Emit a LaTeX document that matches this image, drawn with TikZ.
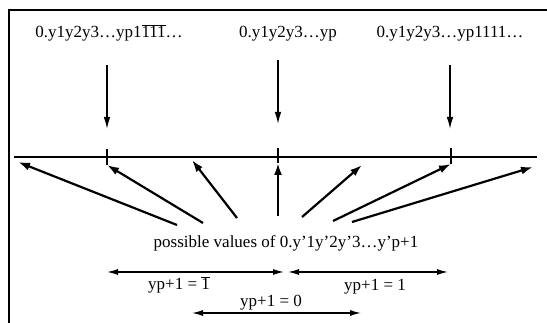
\documentclass[tikz,border=0pt]{standalone}
\usepackage{fontspec}
\setmainfont{Liberation Serif}
\usetikzlibrary{arrows.meta}
\newcommand\ovl[1]{$\overline{\hbox{#1}}$}
\begin{document}
\begin{tikzpicture}[x=1pt,y=-1pt,
  lbl/.style={font=\fontsize{17}{20}\selectfont, inner sep=0pt, anchor=base},
  fan/.style={line width=2.2pt, -{Latex[length=12pt,width=8pt]}},
  down/.style={line width=1.3pt, -{Latex[length=12pt,width=6.5pt]}},
  dbl/.style={line width=1.3pt, {Latex[length=11pt,width=6pt]}-{Latex[length=11pt,width=6pt]}},
  single/.style={line width=1.3pt, -{Latex[length=11pt,width=6pt]}},
  tick/.style={line width=1.4pt}]
\useasboundingbox (0,0) rectangle (547,323);
% frame
\draw[line width=2pt] (9,323) -- (9,10) -- (547,10);
% number line
\coordinate (L0) at (14,157);
\coordinate (L1) at (537,157);
\draw[line width=1.5pt] (L0) -- (L1);
% ticks
\coordinate (t1a) at (107,149); \coordinate (t1) at (107,165);
\coordinate (t2a) at (278,148); \coordinate (t2) at (278,163);
\coordinate (t3a) at (451,148); \coordinate (t3) at (451,164);
\draw[tick] (t1a) -- (t1);
\draw[tick] (t2a) -- (t2);
\draw[tick] (t3a) -- (t3);
% top labels
\node[lbl] (la) at (109,38) {0.y1y2y3…yp1\ovl{111}…};
\node[lbl] (lb) at (288,38) {0.y1y2y3…yp};
\node[lbl] (lc) at (450,38) {0.y1y2y3…yp1111…};
% down arrows
\coordinate (da) at (107,65); \coordinate (dae) at (107,129);
\coordinate (db) at (278,60); \coordinate (dbe) at (278,124);
\coordinate (dc) at (450,65); \coordinate (dce) at (450,129);
\draw[down] (da) -- (dae);
\draw[down] (db) -- (dbe);
\draw[down] (dc) -- (dce);
% fan label
\node[lbl] (pv) at (286,248) {possible values of 0.y'1y'2y'3…y'p+1};
% fan arrows
\coordinate (f1) at (177,225); \coordinate (g1) at (18,162);
\coordinate (f2) at (203,223);
\coordinate (f3) at (237,218); \coordinate (g3) at (192,160);
\coordinate (f4) at (278,216);
\coordinate (f5) at (302,217); \coordinate (g5) at (362,165);
\coordinate (f6) at (333,221);
\coordinate (f7) at (352,222); \coordinate (g7) at (533,167);
\draw[fan] (f1) -- (g1);
\draw[fan] (f2) -- (t1);
\draw[fan] (f3) -- (g3);
\draw[fan] (f4) -- (t2);
\draw[fan] (f5) -- (g5);
\draw[fan] (f6) -- (t3);
\draw[fan] (f7) -- (g7);
% range arrows
\coordinate (r1a) at (107,272); \coordinate (r1b) at (284,272);
\coordinate (r2a) at (288,272); \coordinate (r2b) at (448,272);
\coordinate (r3a) at (192,313); \coordinate (r3b) at (361,313);
\draw[dbl] (r1a) -- (r1b);
\draw[dbl] (r2a) -- (r2b);
\draw[dbl] (r3a) -- (r3b);
\node[lbl] (ya) at (179,290) {yp+1 = \ovl{1}};
\node[lbl] (yb) at (271,307) {yp+1 = 0};
\node[lbl] (yc) at (375,291) {yp+1 = 1};
\end{tikzpicture}
\end{document}
